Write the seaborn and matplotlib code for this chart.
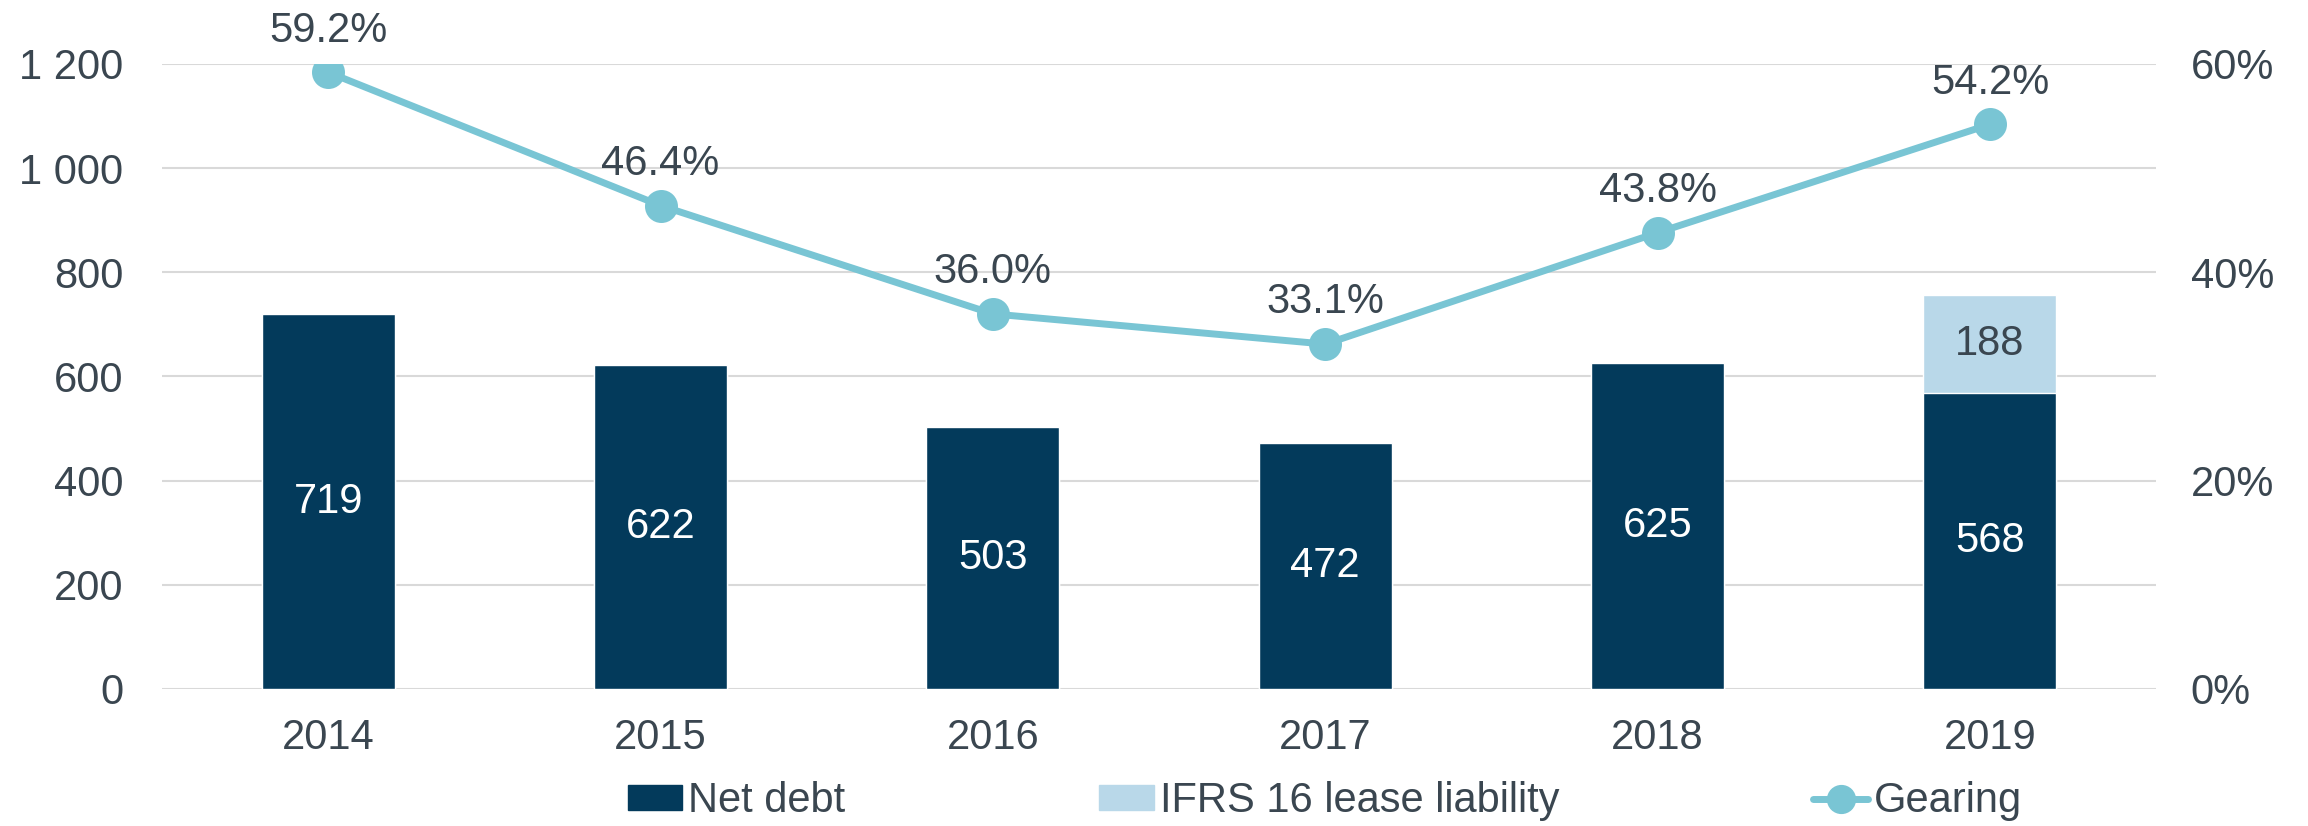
import numpy as np
import pandas as pd
import matplotlib
matplotlib.use("Agg")
import matplotlib.pyplot as plt
import seaborn as sns
from matplotlib.patches import Patch
from matplotlib.lines import Line2D
from matplotlib.ticker import FuncFormatter, FixedLocator

years = ["2014", "2015", "2016", "2017", "2018", "2019"]
net_debt = [719, 622, 503, 472, 625, 568]
ifrs16 = [0, 0, 0, 0, 0, 188]
gearing = [59.2, 46.4, 36.0, 33.1, 43.8, 54.2]

NAVY = "#033A5B"
LIGHT = "#B9D8E9"
TEAL = "#79C5D4"
TEXT = "#3A4650"
GRID = "#D9D9D9"

sns.set_style("white")
plt.rcParams["font.family"] = ["Liberation Sans", "DejaVu Sans"]
FS = 30

df = pd.DataFrame({"year": years, "net": net_debt, "ifrs": ifrs16, "gearing": gearing})
df["total"] = df["net"] + df["ifrs"]

fig = plt.figure(figsize=(23.08, 8.26), dpi=100)
ax = fig.add_axes([0.0702, 0.166, 0.864, 0.7566])

# total bar first (light), net debt drawn over it (dark)
sns.barplot(data=df, x="year", y="total", color=LIGHT, width=0.4, saturation=1, ax=ax, zorder=2)
sns.barplot(data=df, x="year", y="net", color=NAVY, width=0.4, saturation=1, ax=ax, zorder=3)

ax.set_ylim(0, 1200)
ax.yaxis.set_major_locator(FixedLocator([0, 200, 400, 600, 800, 1000, 1200]))
ax.yaxis.set_major_formatter(FuncFormatter(lambda v, p: f"{v:,.0f}".replace(",", " ")))
ax.grid(axis="y", color=GRID, linewidth=1.5, zorder=0)
ax.set_axisbelow(True)
for s in ax.spines.values():
    s.set_visible(False)
ax.set_xlabel("")
ax.set_ylabel("")
ax.tick_params(axis="both", length=0, labelsize=FS, colors=TEXT)
ax.tick_params(axis="y", pad=28)
ax.tick_params(axis="x", pad=21)

# bar labels
ax.bar_label(ax.containers[1], labels=[str(v) for v in net_debt], label_type="center",
             color="white", fontsize=FS)
for i, (n, f) in enumerate(zip(net_debt, ifrs16)):
    if f > 0:
        ax.text(i, n + f / 2, str(f), ha="center", va="center", color=TEXT, fontsize=FS, zorder=5)

# gearing line on the right axis
ax2 = ax.twinx()
sns.pointplot(data=df, x="year", y="gearing", color=TEAL, markers="o",
              markersize=20, linewidth=5, ax=ax2)
ax2.set_ylim(0, 60)
ax2.yaxis.set_major_locator(FixedLocator([0, 20, 40, 60]))
ax2.yaxis.set_major_formatter(FuncFormatter(lambda v, p: f"{v:.0f}%"))
for s in ax2.spines.values():
    s.set_visible(False)
ax2.set_ylabel("")
ax2.set_xlabel("")
ax2.tick_params(axis="y", length=0, labelsize=FS, colors=TEXT, pad=25)
ax2.grid(False)
for i, g in enumerate(gearing):
    ax2.annotate(f"{g:.1f}%", (i, g), xytext=(0, 30), textcoords="offset points",
                 ha="center", va="center", fontsize=FS, color=TEXT)

ax.set_xlim(-0.5, 5.5)

handles = [
    Patch(facecolor=NAVY, edgecolor=NAVY),
    Patch(facecolor=LIGHT, edgecolor=LIGHT),
    Line2D([0], [0], color=TEAL, linewidth=5, marker="o", markersize=20),
]
fig.legend(handles, ["Net debt", "IFRS 16 lease liability", "Gearing"],
           loc="center", bbox_to_anchor=(0.574, 0.03), ncol=3, frameon=False,
           columnspacing=6.1, handletextpad=0.15, handlelength=1.3, handleheight=0.53,
           fontsize=FS, labelcolor=TEXT)

fig.savefig("out.png", dpi=100)
